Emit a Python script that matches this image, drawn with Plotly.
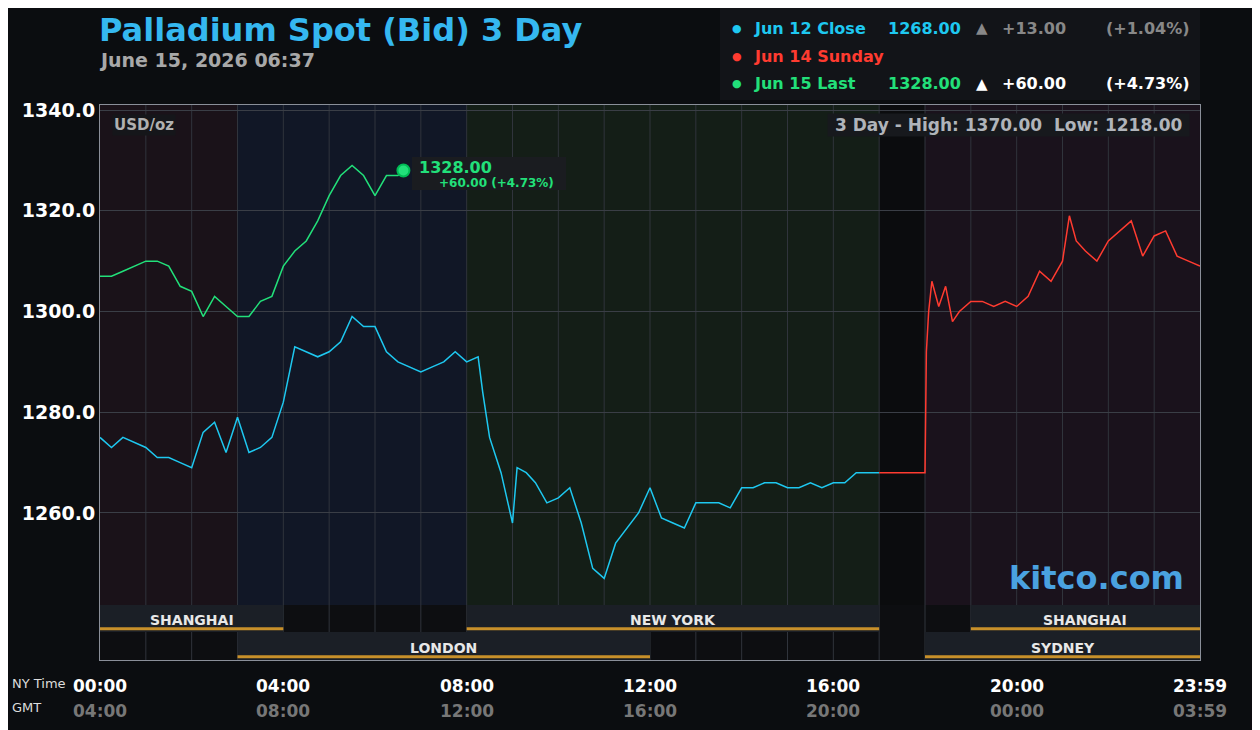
import plotly.graph_objects as go

# ---- data (hours since 00:00 NY time, USD/oz) ----
jun12_t = [0, 0.25, 0.5, 0.75, 1, 1.25, 1.5, 1.75, 2, 2.25, 2.5, 2.75, 3, 3.25, 3.5, 3.75,
           4, 4.25, 4.5, 4.75, 5, 5.25, 5.5, 5.75, 6, 6.25, 6.5, 6.75, 7, 7.25, 7.5, 7.75,
           8, 8.25, 8.35, 8.5, 8.75, 9, 9.1, 9.3, 9.5, 9.75, 10, 10.25, 10.5, 10.75, 11,
           11.25, 11.5, 11.75, 12, 12.25, 12.5, 12.75, 13, 13.25, 13.5, 13.75, 14, 14.25,
           14.5, 14.75, 15, 15.25, 15.5, 15.75, 16, 16.25, 16.5, 16.75, 17]
jun12_v = [1275, 1273, 1275, 1274, 1273, 1271, 1271, 1270, 1269, 1276, 1278, 1272, 1279, 1272,
           1273, 1275, 1282, 1293, 1292, 1291, 1292, 1294, 1299, 1297, 1297, 1292, 1290, 1289,
           1288, 1289, 1290, 1292, 1290, 1291, 1284, 1275, 1268, 1258, 1269, 1268, 1266, 1262,
           1263, 1265, 1258, 1249, 1247, 1254, 1257, 1260, 1265, 1259, 1258, 1257, 1262, 1262,
           1262, 1261, 1265, 1265, 1266, 1266, 1265, 1265, 1266, 1265, 1266, 1266, 1268, 1268, 1268]

jun14_t = [17, 18, 18.03, 18.08, 18.15, 18.3, 18.45, 18.6, 18.75, 19, 19.25, 19.5, 19.75,
           20, 20.25, 20.5, 20.75, 21, 21.15, 21.3, 21.5, 21.75, 22, 22.25, 22.5, 22.75,
           23, 23.25, 23.5, 23.75, 24]
jun14_v = [1268, 1268, 1292, 1300, 1306, 1301, 1305, 1298, 1300, 1302, 1302, 1301, 1302,
           1301, 1303, 1308, 1306, 1310, 1319, 1314, 1312, 1310, 1314, 1316, 1318, 1311,
           1315, 1316, 1311, 1310, 1309]

jun15_t = [0, 0.25, 0.5, 0.75, 1, 1.25, 1.5, 1.75, 2, 2.25, 2.5, 2.75, 3, 3.25, 3.5, 3.75,
           4, 4.25, 4.5, 4.75, 5, 5.25, 5.5, 5.75, 6, 6.25, 6.5, 6.62]
jun15_v = [1307, 1307, 1308, 1309, 1310, 1310, 1309, 1305, 1304, 1299, 1303, 1301, 1299,
           1299, 1302, 1303, 1309, 1312, 1314, 1318, 1323, 1327, 1329, 1327, 1323, 1327,
           1327, 1328]

y_ticks = [1260, 1280, 1300, 1320, 1340]
x_hours = [0, 4, 8, 12, 16, 20, 24]
ny_labels = ["00:00", "04:00", "08:00", "12:00", "16:00", "20:00", "23:59"]
gmt_labels = ["04:00", "08:00", "12:00", "16:00", "20:00", "00:00", "03:59"]

CYAN, RED, GREEN = "#1ec8f0", "#ff3b30", "#22e07a"
BAND_TOP, ROW_MID = 0.099, 0.0505

fig = go.Figure()
fig.add_trace(go.Scatter(x=jun12_t, y=jun12_v, mode="lines", line=dict(color=CYAN, width=1.5)))
fig.add_trace(go.Scatter(x=jun14_t, y=jun14_v, mode="lines", line=dict(color=RED, width=1.5)))
fig.add_trace(go.Scatter(x=jun15_t, y=jun15_v, mode="lines", line=dict(color=GREEN, width=1.5)))
fig.add_trace(go.Scatter(x=[jun15_t[-1]], y=[jun15_v[-1]], mode="markers",
                         marker=dict(color=GREEN, size=12, line=dict(color="#0b5", width=2))))

shapes = []
# session shading
for x0, x1, c in [(0, 3, "#1a1219"), (3, 8, "#111726"), (8, 17, "#141e17"),
                  (17, 18, "#0b0c0e"), (18, 24, "#1a121c")]:
    shapes.append(dict(type="rect", xref="x", yref="paper", x0=x0, x1=x1, y0=BAND_TOP, y1=1,
                       fillcolor=c, line_width=0, layer="below"))
# session rows background
shapes.append(dict(type="rect", xref="x", yref="paper", x0=0, x1=24, y0=0, y1=BAND_TOP,
                   fillcolor="#0d0e11", line_width=0, layer="below"))
for h in range(1, 24):
    shapes.append(dict(type="line", xref="x", yref="paper", x0=h, x1=h, y0=0, y1=1,
                       line=dict(color="#30343c", width=1), layer="below"))
sessions = [(0, 4, 1, "SHANGHAI"), (8, 17, 1, "NEW YORK"), (19, 24, 1, "SHANGHAI"),
            (3, 12, 0, "LONDON"), (18, 24, 0, "SYDNEY")]
annots = []
for x0, x1, row, name in sessions:
    y0, y1 = (ROW_MID, BAND_TOP) if row else (0, ROW_MID)
    shapes.append(dict(type="rect", xref="x", yref="paper", x0=x0, x1=x1, y0=y0, y1=y1,
                       fillcolor="#1b1f26", line_width=0))
    shapes.append(dict(type="line", xref="x", yref="paper", x0=x0, x1=x1, y0=y0 + 0.006, y1=y0 + 0.006,
                       line=dict(color="#c8902a", width=3)))
    annots.append(dict(x=(x0 + x1) / 2, y=y0 + 0.021, xref="x", yref="paper", yanchor="middle",
                       text="<b>%s</b>" % name, showarrow=False,
                       font=dict(color="#e8e8e8", size=14)))

for h, ny, gm in zip(x_hours, ny_labels, gmt_labels):
    annots.append(dict(x=h, y=-0.025, xref="x", yref="paper", yanchor="top", text="<b>%s</b>" % ny,
                       showarrow=False, font=dict(color="#ffffff", size=17)))
    annots.append(dict(x=h, y=-0.07, xref="x", yref="paper", yanchor="top", text="<b>%s</b>" % gm,
                       showarrow=False, font=dict(color="#777777", size=17)))

def txt(x, y, s, color, size, bold=True, anchor="left", bg=None):
    annots.append(dict(x=x, y=y, xref="paper", yref="paper", xanchor=anchor, yanchor="middle",
                       text=("<b>%s</b>" % s) if bold else s, showarrow=False,
                       font=dict(color=color, size=size), bgcolor=bg))

# paper coordinates relative to plot area (x: 100..1200 px, y: 660..105 px on screen)
px = lambda v: (v - 100) / 1100
py = lambda v: (660 - v) / 555
txt(px(97), py(30), "Palladium Spot (Bid) 3 Day", "#35b8f0", 32)
txt(px(97), py(60), "June 15, 2026 06:37", "#a8a8a8", 19)
txt(px(10), py(683), "NY Time", "#dddddd", 13, bold=False)
txt(px(10), py(707), "GMT", "#dddddd", 13, bold=False)
txt(px(112), py(125), "USD/oz", "#b0b0b0", 15, bg="#15161a")
txt(px(1190), py(125), " 3 Day - High: 1370.00  Low: 1218.00 ", "#b0b4ba", 17, anchor="right", bg="#17191d")
txt(px(1186), py(578), "kitco.com", "#4aa2e0", 32, anchor="right")
txt(px(417), py(168), "1328.00", GREEN, 16)
txt(px(437), py(183), "+60.00 (+4.73%)", GREEN, 12)
shapes.append(dict(type="rect", xref="paper", yref="paper", x0=px(412), x1=px(566), y0=py(190), y1=py(157),
                   fillcolor="#1a1c20", line_width=0, layer="below"))
# legend box
shapes.append(dict(type="rect", xref="paper", yref="paper", x0=px(720), x1=px(1200), y0=py(100), y1=py(8),
                   fillcolor="#121418", line_width=0))
rows = [(28, CYAN, "Jun 12 Close", "1268.00", "▲", "+13.00", "(+1.04%)", "#888888"),
        (56, RED, "Jun 14 Sunday", "", "", "", "", RED),
        (84, GREEN, "Jun 15 Last", "1328.00", "▲", "+60.00", "(+4.73%)", "#ffffff")]
for y, c, name, val, arr, chg, pct, cc in rows:
    txt(px(730), py(y), "●", c, 11, bold=False)
    txt(px(752), py(y), name, c, 16)
    if val:
        txt(px(886), py(y), val, c, 16)
        txt(px(974), py(y), arr, cc, 15, bold=False)
        txt(px(1000), py(y), chg, cc, 16)
        txt(px(1192), py(y), pct, cc, 16, anchor="right")

# page body adds an 8px offset, so the figure is shrunk by that amount
fig.update_layout(
    width=1252, height=722, showlegend=False,
    margin=dict(l=92, r=60, t=97, b=70),
    paper_bgcolor="#0b0d10", plot_bgcolor="#0b0d10",
    font=dict(family="DejaVu Sans"),
    xaxis=dict(range=[0, 24], showgrid=False, showticklabels=False, zeroline=False,
               showline=True, linecolor="#8a8f99", mirror=True),
    yaxis=dict(range=[1230.8, 1341], tickvals=y_ticks, ticktext=["<b>%.1f</b>" % v for v in y_ticks],
               tickfont=dict(color="#ffffff", size=19), gridcolor="#3a3e46", zeroline=False,
               showline=True, linecolor="#8a8f99", mirror=True, ticklen=0),
    shapes=shapes, annotations=annots,
)
fig.write_html("out.html")
